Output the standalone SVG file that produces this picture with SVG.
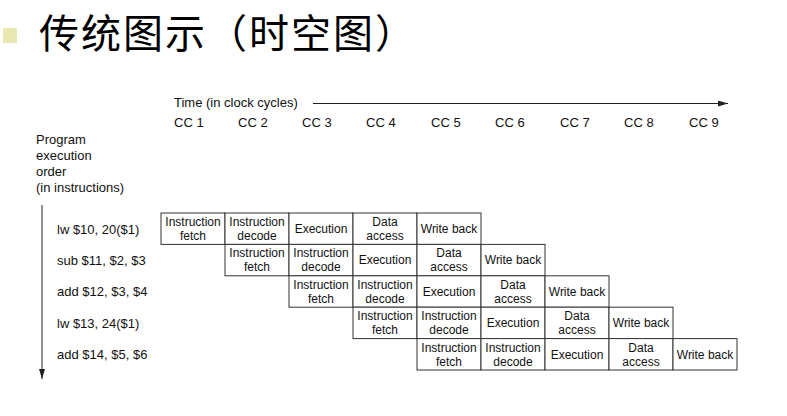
<svg xmlns="http://www.w3.org/2000/svg" width="787" height="416" viewBox="0 0 787 416">
<defs>
<marker id="ah" viewBox="0 0 10 6" refX="10" refY="3" markerWidth="10" markerHeight="6" markerUnits="userSpaceOnUse" orient="auto">
<path d="M0,0 L10,3 L0,6 z" fill="#222"/>
</marker>
<style>
.t{font-family:"Liberation Sans",Arial,sans-serif;font-size:13px;fill:#111}
.c{font-family:"Liberation Sans",Arial,sans-serif;font-size:12px;fill:#111;text-anchor:middle}
.b{fill:#fff;stroke:#333;stroke-width:1}
.ln{stroke:#222;stroke-width:1;fill:none}
</style>
</defs>
<rect width="787" height="416" fill="#fff"/>
<g id="title">
<rect x="3" y="28" width="14" height="15" fill="#e8e8b0"/>
<text x="39" y="48" style="font-family:'Noto Sans CJK SC',sans-serif;font-size:40px;letter-spacing:2px;fill:#000">传统图示（时空图）</text>
</g>
<g id="axes">
<text class="t" x="174" y="107">Time (in clock cycles)</text>
<text class="t" x="174" y="127">CC 1</text>
<text class="t" x="238" y="127">CC 2</text>
<text class="t" x="302" y="127">CC 3</text>
<text class="t" x="366" y="127">CC 4</text>
<text class="t" x="431" y="127">CC 5</text>
<text class="t" x="495" y="127">CC 6</text>
<text class="t" x="560" y="127">CC 7</text>
<text class="t" x="624" y="127">CC 8</text>
<text class="t" x="689" y="127">CC 9</text>
<text class="t" x="36" y="144">Program</text>
<text class="t" x="36" y="160">execution</text>
<text class="t" x="36" y="176">order</text>
<text class="t" x="36" y="192">(in instructions)</text>
<text class="t" x="57" y="234">lw $10, 20($1)</text>
<text class="t" x="57" y="265">sub $11, $2, $3</text>
<text class="t" x="57" y="296">add $12, $3, $4</text>
<text class="t" x="57" y="328">lw $13, 24($1)</text>
<text class="t" x="57" y="359">add $14, $5, $6</text>
</g>
<g id="connectors">
<line class="ln" x1="313" y1="103.5" x2="728" y2="103.5" marker-end="url(#ah)"/>
<line class="ln" x1="42" y1="205" x2="42" y2="379" marker-end="url(#ah)"/>
</g>
<g id="row1">
<rect class="b" x="161" y="213" width="64" height="31.4"/>
<rect class="b" x="225" y="213" width="64" height="31.4"/>
<rect class="b" x="289" y="213" width="64" height="31.4"/>
<rect class="b" x="353" y="213" width="64" height="31.4"/>
<rect class="b" x="417" y="213" width="64" height="31.4"/>
<text class="c" x="193" y="226">Instruction</text><text class="c" x="193" y="240">fetch</text>
<text class="c" x="257" y="226">Instruction</text><text class="c" x="257" y="240">decode</text>
<text class="c" x="321" y="233">Execution</text>
<text class="c" x="385" y="226">Data</text><text class="c" x="385" y="240">access</text>
<text class="c" x="449" y="233">Write back</text>
</g>
<g id="row2">
<rect class="b" x="225" y="244.4" width="64" height="31.4"/>
<rect class="b" x="289" y="244.4" width="64" height="31.4"/>
<rect class="b" x="353" y="244.4" width="64" height="31.4"/>
<rect class="b" x="417" y="244.4" width="64" height="31.4"/>
<rect class="b" x="481" y="244.4" width="64" height="31.4"/>
<text class="c" x="257" y="257.4">Instruction</text><text class="c" x="257" y="271.4">fetch</text>
<text class="c" x="321" y="257.4">Instruction</text><text class="c" x="321" y="271.4">decode</text>
<text class="c" x="385" y="264.4">Execution</text>
<text class="c" x="449" y="257.4">Data</text><text class="c" x="449" y="271.4">access</text>
<text class="c" x="513" y="264.4">Write back</text>
</g>
<g id="row3">
<rect class="b" x="289" y="275.8" width="64" height="31.4"/>
<rect class="b" x="353" y="275.8" width="64" height="31.4"/>
<rect class="b" x="417" y="275.8" width="64" height="31.4"/>
<rect class="b" x="481" y="275.8" width="64" height="31.4"/>
<rect class="b" x="545" y="275.8" width="64" height="31.4"/>
<text class="c" x="321" y="288.8">Instruction</text><text class="c" x="321" y="302.8">fetch</text>
<text class="c" x="385" y="288.8">Instruction</text><text class="c" x="385" y="302.8">decode</text>
<text class="c" x="449" y="295.8">Execution</text>
<text class="c" x="513" y="288.8">Data</text><text class="c" x="513" y="302.8">access</text>
<text class="c" x="577" y="295.8">Write back</text>
</g>
<g id="row4">
<rect class="b" x="353" y="307.2" width="64" height="31.4"/>
<rect class="b" x="417" y="307.2" width="64" height="31.4"/>
<rect class="b" x="481" y="307.2" width="64" height="31.4"/>
<rect class="b" x="545" y="307.2" width="64" height="31.4"/>
<rect class="b" x="609" y="307.2" width="64" height="31.4"/>
<text class="c" x="385" y="320.2">Instruction</text><text class="c" x="385" y="334.2">fetch</text>
<text class="c" x="449" y="320.2">Instruction</text><text class="c" x="449" y="334.2">decode</text>
<text class="c" x="513" y="327.2">Execution</text>
<text class="c" x="577" y="320.2">Data</text><text class="c" x="577" y="334.2">access</text>
<text class="c" x="641" y="327.2">Write back</text>
</g>
<g id="row5">
<rect class="b" x="417" y="338.6" width="64" height="31.4"/>
<rect class="b" x="481" y="338.6" width="64" height="31.4"/>
<rect class="b" x="545" y="338.6" width="64" height="31.4"/>
<rect class="b" x="609" y="338.6" width="64" height="31.4"/>
<rect class="b" x="673" y="338.6" width="64" height="31.4"/>
<text class="c" x="449" y="351.6">Instruction</text><text class="c" x="449" y="365.6">fetch</text>
<text class="c" x="513" y="351.6">Instruction</text><text class="c" x="513" y="365.6">decode</text>
<text class="c" x="577" y="358.6">Execution</text>
<text class="c" x="641" y="351.6">Data</text><text class="c" x="641" y="365.6">access</text>
<text class="c" x="705" y="358.6">Write back</text>
</g>
</svg>
